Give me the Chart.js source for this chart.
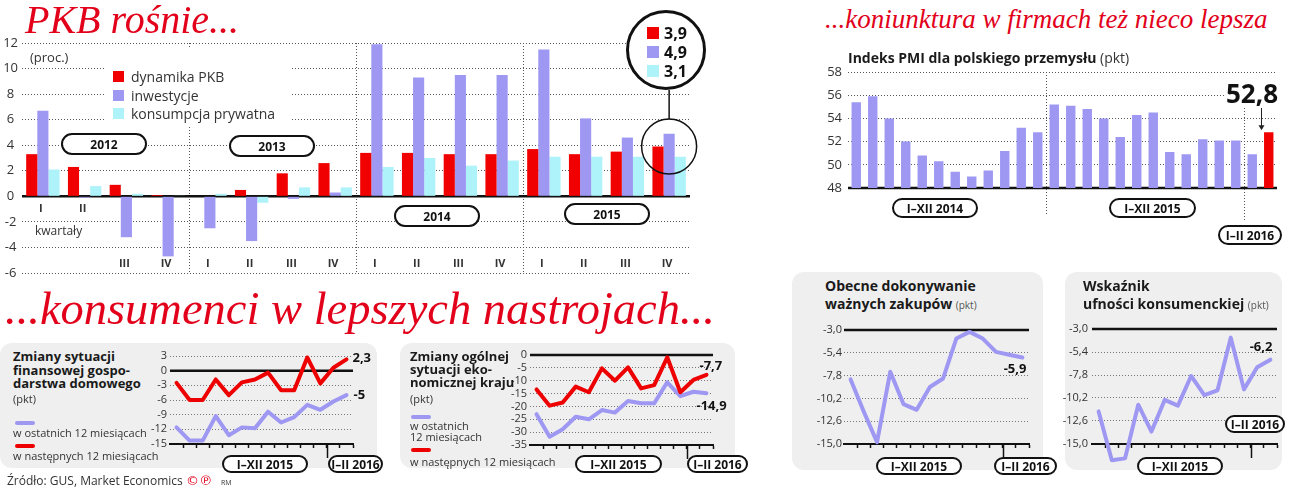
<!DOCTYPE html>
<html>
<head>
<meta charset="utf-8">
<script src="https://cdn.jsdelivr.net/npm/chart.js@4"></script>
<style>
body{margin:0;width:1302px;height:496px;background:#fff;position:relative;overflow:hidden;font-family:"Open Sans",sans-serif;color:#222}
canvas,.abs{position:absolute}
.title{position:absolute;font-family:"Liberation Serif",serif;font-style:italic;color:#e2001a;white-space:nowrap;line-height:1}
.panel{position:absolute;background:#efefef;border-radius:12px}
.pill{position:absolute;box-sizing:border-box;border:2px solid #111;border-radius:11px;background:#fff;font-weight:700;font-size:12px;display:flex;align-items:center;justify-content:center;white-space:nowrap;color:#111}
.ptitle{position:absolute;font-weight:700;color:#1a1a1a;white-space:nowrap}
.pkt{font-weight:400;font-size:10px;color:#555}
.small{position:absolute;font-size:11px;color:#333;white-space:nowrap;line-height:11px}
.seg{position:absolute;height:4px;border-radius:2px}
.sq{position:absolute;width:11px;height:11px}
</style>
</head>
<body>

<div class="panel" style="left:0;top:343px;width:377px;height:125px"></div>
<div class="panel" style="left:400px;top:343px;width:335px;height:125px"></div>
<div class="panel" style="left:792px;top:272px;width:251px;height:198px"></div>
<div class="panel" style="left:1065px;top:272px;width:217px;height:198px"></div>

<canvas id="pkb" width="700" height="290" style="left:0;top:0"></canvas>
<canvas id="pmi" width="502" height="190" style="left:800px;top:45px"></canvas>
<canvas id="house" width="235" height="125" style="left:145px;top:345px"></canvas>
<canvas id="econ" width="250" height="125" style="left:495px;top:345px"></canvas>
<canvas id="buy" width="250" height="160" style="left:800px;top:315px"></canvas>
<canvas id="conf" width="240" height="160" style="left:1062px;top:315px"></canvas>

<!-- PKB texts -->
<div class="title" style="left:25px;top:0;font-size:40px">PKB rośnie...</div>
<div class="abs" style="left:30px;top:48px;font-size:13px;color:#333">(proc.)</div>
<div class="abs" style="left:105px;top:47px;width:185px;height:80px;background:#fff"></div>
<div id="pkbLegend"></div>
<div class="abs" style="left:35px;top:222px;font-size:12px;color:#333">kwartały</div>
<div class="pill" style="left:61px;top:133px;width:86px;height:22px">2012</div>
<div class="pill" style="left:229px;top:135px;width:86px;height:22px">2013</div>
<div class="pill" style="left:394px;top:205px;width:86px;height:22px">2014</div>
<div class="pill" style="left:564px;top:203px;width:86px;height:22px">2015</div>
<div class="abs" style="left:626px;top:10px;width:80px;height:80px;box-sizing:border-box;border:3px solid #111;border-radius:50%;background:#fff"></div>
<div id="pkbLast"></div>

<!-- PMI texts -->
<div class="title" style="left:825px;top:6px;font-size:27px">...koniunktura w firmach też nieco lepsza</div>
<div class="ptitle" style="left:848px;top:48px;font-size:14px">Indeks PMI dla polskiego przemysłu <span style="font-weight:400;font-size:14px;color:#333">(pkt)</span></div>
<div id="pmiLast" class="abs" style="left:1224px;top:78px;font-size:26px;font-weight:700;color:#111;background:#fff;line-height:30px;padding:0 2px"></div>
<div class="pill" style="left:892px;top:198px;width:86px;height:20px">I–XII 2014</div>
<div class="pill" style="left:1109px;top:198px;width:87px;height:20px">I–XII 2015</div>
<div class="pill" style="left:1218px;top:225px;width:64px;height:20px">I–II 2016</div>

<!-- consumer texts -->
<div class="title" style="left:5px;top:286px;font-size:46.5px">...konsumenci w lepszych nastrojach...</div>

<div class="ptitle" style="left:13px;top:350px;font-size:13px;line-height:13.5px">Zmiany sytuacji<br>finansowej gospo-<br>darstwa domowego</div>
<div class="small" style="left:13px;top:393px">(pkt)</div>
<div class="seg" style="left:15px;top:421px;width:20px;background:#9e98f3"></div>
<div class="small" style="left:13px;top:427px">w ostatnich 12 miesiącach</div>
<div class="seg" style="left:15px;top:444px;width:20px;background:#ee0000"></div>
<div class="small" style="left:13px;top:450px">w następnych 12 miesiącach</div>
<div class="pill" style="left:222px;top:455px;width:86px;height:18px">I–XII 2015</div>
<div class="pill" style="left:328px;top:455px;width:55px;height:18px">I–II 2016</div>

<div class="ptitle" style="left:410px;top:350px;font-size:13px;line-height:13px">Zmiany ogólnej<br>sytuacji eko-<br>nomicznej kraju</div>
<div class="small" style="left:410px;top:393px">(pkt)</div>
<div class="seg" style="left:411px;top:415px;width:20px;background:#9e98f3"></div>
<div class="small" style="left:410px;top:420px">w ostatnich<br>12 miesiącach</div>
<div class="seg" style="left:411px;top:448px;width:20px;background:#ee0000"></div>
<div class="small" style="left:410px;top:456px">w następnych 12 miesiącach</div>
<div class="pill" style="left:575px;top:455px;width:87px;height:18px">I–XII 2015</div>
<div class="pill" style="left:687px;top:455px;width:61px;height:18px">I–II 2016</div>

<div class="ptitle" style="left:825px;top:277px;font-size:14px;line-height:18px">Obecne dokonywanie<br>ważnych zakupów <span class="pkt">(pkt)</span></div>
<div class="pill" style="left:876px;top:457px;width:86px;height:18px">I–XII 2015</div>
<div class="pill" style="left:994px;top:457px;width:63px;height:18px">I–II 2016</div>

<div class="ptitle" style="left:1083px;top:277px;font-size:14px;line-height:18px">Wskaźnik<br>ufności konsumenckiej <span class="pkt">(pkt)</span></div>
<div class="pill" style="left:1225px;top:415px;width:60px;height:18px">I–II 2016</div>
<div class="pill" style="left:1137px;top:457px;width:86px;height:18px">I–XII 2015</div>

<div class="abs" style="left:7px;top:472px;font-size:12px;color:#333;white-space:nowrap">Źródło: GUS, Market Economics <span style="color:#e2001a;font-family:'DejaVu Sans';font-size:13px">©℗</span> <span style="font-size:7px;margin-left:6px">RM</span></div>

<script>
const RED = '#f00000';
const PURPLE = '#9e98f3';
const CYAN = '#aef2fa';

// PKB, quarters 2012-2015 (proc.)
const pkbYears = ['2012', '2013', '2014', '2015'];
const pkbQuarterNames = ['I', 'II', 'III', 'IV'];
const pkbGrowth      = [3.3, 2.3, 0.9, 0.1,   0.0, 0.5, 1.8, 2.6,   3.4, 3.4, 3.3, 3.3,   3.7, 3.3, 3.5, 3.9];
const pkbInvestment  = [6.7, -0.1, -3.2, -4.7, -2.5, -3.5, -0.2, 0.3, 11.9, 9.3, 9.5, 9.5,  11.5, 6.1, 4.6, 4.9];
const pkbConsumption = [2.1, 0.8, 0.2, 0.05,  0.2, -0.5, 0.7, 0.7,   2.3, 3.0, 2.4, 2.8,   3.1, 3.1, 3.1, 3.1];
const pkbSeriesNames = ['dynamika PKB', 'inwestycje', 'konsumpcja prywatna'];
const pkbTicks = [-6, -4, -2, 0, 2, 4, 6, 8, 10, 12];

// PMI, months 2014 - II 2016 (pkt)
const pmiMonths = ['I 2014','II 2014','III 2014','IV 2014','V 2014','VI 2014','VII 2014','VIII 2014','IX 2014','X 2014','XI 2014','XII 2014',
                   'I 2015','II 2015','III 2015','IV 2015','V 2015','VI 2015','VII 2015','VIII 2015','IX 2015','X 2015','XI 2015','XII 2015',
                   'I 2016','II 2016'];
const pmiValues = [55.4, 55.9, 54.0, 52.0, 50.8, 50.3, 49.4, 49.0, 49.5, 51.2, 53.2, 52.8,
                   55.2, 55.1, 54.8, 54.0, 52.4, 54.3, 54.5, 51.1, 50.9, 52.2, 52.1, 52.1,
                   50.9, 52.8];
const pmiTicks = [48, 50, 52, 54, 56, 58];

// consumer sentiment, I 2015 - II 2016 (pkt)
const months = ['I 2015','II 2015','III 2015','IV 2015','V 2015','VI 2015','VII 2015','VIII 2015','IX 2015','X 2015','XI 2015','XII 2015','I 2016','II 2016'];
const householdPast = [-11.6, -14.3, -14.3, -9.3, -13.2, -11.6, -11.8, -8.4, -10.6, -9.5, -7.0, -8.0, -6.3, -5];
const householdNext = [-2.5, -6.0, -6.0, -1.8, -5.0, -2.4, -1.8, -0.4, -4.0, -4.0, 2.7, -2.6, 0.6, 2.3];
const householdTicks = [3, 0, -3, -6, -9, -12, -15];
const economyPast = [-23.0, -31.8, -28.9, -24.0, -25.0, -21.4, -22.4, -17.9, -18.8, -18.8, -10.6, -16.0, -14.3, -14.9];
const economyNext = [-13.4, -19.7, -18.5, -12.3, -14.5, -5.2, -10.0, -4.8, -13.0, -11.7, -0.9, -14.5, -9.7, -7.7];
const economyTicks = [0, -5, -10, -15, -20, -25, -30, -35];
const purchases  = [-8.2, -11.6, -14.8, -7.4, -10.8, -11.4, -9.0, -8.1, -3.9, -3.2, -3.9, -5.3, -5.6, -5.9];
const confidence = [-11.6, -16.7, -16.5, -10.9, -13.7, -10.4, -11.0, -7.9, -9.9, -9.4, -3.9, -9.3, -7.0, -6.2];
const sentimentTicks = [-3, -5.4, -7.8, -10.2, -12.6, -15];

Chart.defaults.font.family = '"Open Sans", sans-serif';
const comma = v => String(v).replace('.', ',');
const fixedTicks = list => s => { s.ticks = list.map(v => ({value: v})); };

// html bits built from the data
const pkbColors = [RED, PURPLE, CYAN];
document.getElementById('pkbLegend').innerHTML = pkbSeriesNames.map((n, i) =>
  `<div class="sq" style="left:113px;top:${71 + i * 18.5}px;background:${pkbColors[i]}"></div>` +
  `<div class="abs" style="left:131px;top:${67 + i * 18.5}px;font-size:14px;color:#333;white-space:nowrap">${n}</div>`).join('');
const pkbLastVals = [pkbGrowth, pkbInvestment, pkbConsumption].map(a => a[a.length - 1].toFixed(1).replace('.', ','));
document.getElementById('pkbLast').innerHTML = pkbLastVals.map((v, i) =>
  `<div class="sq" style="left:647px;top:${27 + i * 19}px;width:12px;height:12px;background:${pkbColors[i]}"></div>` +
  `<div class="abs" style="left:664px;top:${22 + i * 19}px;font-size:16px;font-weight:700;color:#111">${v}</div>`).join('');
document.getElementById('pmiLast').textContent = comma(pmiValues[pmiValues.length - 1]);

// plugins
function baseLine(value) {
  return {
    id: 'baseLine',
    beforeDatasetsDraw(chart) {
      const {ctx, chartArea: a, scales: {y}} = chart;
      const py = y.getPixelForValue(value);
      ctx.save();
      ctx.strokeStyle = '#111';
      ctx.lineWidth = 2.5;
      ctx.beginPath();
      ctx.moveTo(a.left, py);
      ctx.lineTo(a.right, py);
      ctx.stroke();
      ctx.restore();
    }
  };
}

function splitMark(at, len) {
  return {
    id: 'splitMark',
    afterDraw(chart) {
      const {ctx, chartArea: a, scales: {x}} = chart;
      const px = Math.round(x.getPixelForValue(at)) + 0.5;
      ctx.save();
      ctx.strokeStyle = '#111';
      ctx.lineWidth = 1.5;
      ctx.beginPath();
      ctx.moveTo(px, a.bottom);
      ctx.lineTo(px, a.bottom + len);
      ctx.stroke();
      ctx.restore();
    }
  };
}

function endLabels(items) {
  return {
    id: 'endLabels',
    afterDatasetsDraw(chart) {
      const {ctx} = chart;
      ctx.save();
      ctx.font = 'bold 13px "Open Sans"';
      ctx.fillStyle = '#111';
      ctx.textBaseline = 'middle';
      items.forEach(it => {
        const data = chart.data.datasets[it.ds].data;
        const pt = chart.getDatasetMeta(it.ds).data[data.length - 1];
        ctx.textAlign = it.align;
        ctx.fillText(comma(data[data.length - 1]), pt.x + it.dx, pt.y + it.dy);
      });
      ctx.restore();
    }
  };
}

const quarterLabels = {
  id: 'quarterLabels',
  afterDatasetsDraw(chart) {
    const {ctx, scales: {x, y}} = chart;
    ctx.save();
    ctx.font = 'bold 11px "Open Sans"';
    ctx.fillStyle = '#333';
    ctx.textAlign = 'center';
    ctx.textBaseline = 'middle';
    chart.data.labels.forEach((l, i) => {
      ctx.fillText(l.split(' ')[0], x.getPixelForValue(i) - 2, y.getPixelForValue(i < 2 ? -1 : -5.3));
    });
    ctx.restore();
  }
};

const pkbCallout = {
  id: 'pkbCallout',
  afterDatasetsDraw(chart) {
    const {ctx, scales: {x, y}} = chart;
    const last = pkbGrowth.length - 1;
    const cx = x.getPixelForValue(last);
    const cy = y.getPixelForValue(3.9);
    ctx.save();
    ctx.strokeStyle = '#111';
    ctx.lineWidth = 1.5;
    ctx.beginPath();
    ctx.arc(cx, cy, 27.5, 0, Math.PI * 2);
    ctx.stroke();
    ctx.beginPath();
    ctx.moveTo(cx, cy - 27.5);
    ctx.lineTo(cx, 90);
    ctx.stroke();
    ctx.restore();
  }
};

const pmiMarks = {
  id: 'pmiMarks',
  afterDatasetsDraw(chart) {
    const {ctx, chartArea: a, scales: {x, y}} = chart;
    ctx.save();
    ctx.strokeStyle = '#555';
    ctx.lineWidth = 1;
    ctx.setLineDash([1, 2]);
    [[11.5, a.top, a.bottom + 27], [23.5, a.top + 33, a.bottom + 32]].forEach(([v, t, b]) => {
      const px = Math.round(x.getPixelForValue(v)) + 0.5;
      ctx.beginPath();
      ctx.moveTo(px, t);
      ctx.lineTo(px, b);
      ctx.stroke();
    });
    ctx.setLineDash([]);
    const last = pmiValues.length - 1;
    const px = Math.round(x.getPixelForValue(last)) - 7.5;
    const top = a.top + 36;
    const bot = y.getPixelForValue(pmiValues[last]) - 2;
    ctx.strokeStyle = '#222';
    ctx.fillStyle = '#222';
    ctx.beginPath();
    ctx.moveTo(px, top);
    ctx.lineTo(px, bot - 4);
    ctx.stroke();
    ctx.beginPath();
    ctx.moveTo(px - 3, bot - 5);
    ctx.lineTo(px + 3, bot - 5);
    ctx.lineTo(px, bot);
    ctx.fill();
    ctx.restore();
  }
};

const noTip = {legend: {display: false}, tooltip: {enabled: false}};

// PKB chart
new Chart(document.getElementById('pkb'), {
  type: 'bar',
  data: {
    labels: pkbYears.flatMap(yr => pkbQuarterNames.map(q => q + ' ' + yr)),
    datasets: [
      {label: pkbSeriesNames[0], data: pkbGrowth, backgroundColor: RED},
      {label: pkbSeriesNames[1], data: pkbInvestment, backgroundColor: PURPLE},
      {label: pkbSeriesNames[2], data: pkbConsumption, backgroundColor: CYAN}
    ]
  },
  options: {
    responsive: false,
    animation: false,
    devicePixelRatio: 1,
    layout: {padding: {top: 43, bottom: 17, left: 0, right: 10}},
    plugins: noTip,
    datasets: {bar: {categoryPercentage: 0.8, barPercentage: 1, borderWidth: 0}},
    scales: {
      x: {
        grid: {offset: true, drawTicks: false, lineWidth: 1,
               color: c => (c.index > 0 && c.index % 4 === 0 && c.index < 16) ? '#555' : 'rgba(0,0,0,0)'},
        border: {display: false, dash: [1, 2]},
        ticks: {display: false},
        afterFit: s => { s.height = 0; }
      },
      y: {
        min: -6, max: 12,
        afterBuildTicks: fixedTicks(pkbTicks),
        grid: {color: '#555', drawTicks: false},
        border: {display: false, dash: [1, 2]},
        ticks: {font: {size: 13}, color: '#333', padding: 4, crossAlign: 'center', autoSkip: false},
        afterFit: s => { s.width = 22; }
      }
    }
  },
  plugins: [baseLine(0), quarterLabels, pkbCallout]
});

// PMI chart
new Chart(document.getElementById('pmi'), {
  type: 'bar',
  data: {
    labels: pmiMonths,
    datasets: [{data: pmiValues, backgroundColor: pmiValues.map((v, i) => i === pmiValues.length - 1 ? RED : PURPLE)}]
  },
  options: {
    responsive: false,
    animation: false,
    devicePixelRatio: 1,
    layout: {padding: {top: 27, bottom: 47, left: 0, right: 25}},
    plugins: noTip,
    datasets: {bar: {categoryPercentage: 1, barPercentage: 0.57, borderWidth: 0}},
    scales: {
      x: {grid: {display: false}, border: {display: false}, ticks: {display: false}, afterFit: s => { s.height = 0; }},
      y: {
        min: 48, max: 58,
        afterBuildTicks: fixedTicks(pmiTicks),
        grid: {color: '#555', drawTicks: false},
        border: {display: false, dash: [1, 2]},
        ticks: {font: {size: 13}, color: '#333', padding: 6, autoSkip: false},
        afterFit: s => { s.width = 48; }
      }
    }
  },
  plugins: [baseLine(48), pmiMarks]
});

// sentiment line charts
function sentimentChart(id, series, ticks, zero, fmt, labels, pad, yWidth, tickPad) {
  return new Chart(document.getElementById(id), {
    type: 'line',
    data: {
      labels: months,
      datasets: series.map(s => ({data: s.data, borderColor: s.color, borderWidth: 4, pointRadius: 0,
                                  tension: 0, borderJoinStyle: 'round', borderCapStyle: 'round', clip: false}))
    },
    options: {
      responsive: false,
      animation: false,
      devicePixelRatio: 1,
      layout: {padding: pad},
      plugins: noTip,
      scales: {
        x: {
          offset: true,
          grid: {offset: true, drawOnChartArea: false, drawTicks: true, tickLength: 4, tickWidth: 1.5,
                 tickColor: c => (c.index === 0 || c.index === months.length) ? 'rgba(0,0,0,0)' : '#111'},
          border: {display: true, color: '#111', width: 2},
          ticks: {display: false},
          afterFit: s => { s.height = 0; }
        },
        y: {
          min: Math.min(...ticks), max: Math.max(...ticks),
          afterBuildTicks: fixedTicks(ticks),
          grid: {color: '#777', drawTicks: false},
          border: {display: false, dash: [1, 2]},
          ticks: {font: {size: 11}, color: '#333', padding: tickPad, autoSkip: false, callback: v => fmt(v)},
          afterFit: s => { s.width = yWidth; }
        }
      }
    },
    plugins: [baseLine(zero), splitMark(11.5, 14), endLabels(labels)]
  });
}

const intFmt = v => String(v);
const decFmt = v => v.toFixed(1).replace('.', ',');

sentimentChart('house',
  [{data: householdNext, color: '#ee0000'}, {data: householdPast, color: PURPLE}],
  householdTicks, 0, intFmt,
  [{ds: 0, dx: 6, dy: -1, align: 'left'}, {ds: 1, dx: 7, dy: 0, align: 'left'}],
  {top: 11, bottom: 26, left: 0, right: 27}, 25, 3);

sentimentChart('econ',
  [{data: economyNext, color: '#ee0000'}, {data: economyPast, color: PURPLE}],
  economyTicks, 0, intFmt,
  [{ds: 0, dx: -7, dy: -9, align: 'left'}, {ds: 1, dx: -10, dy: 13, align: 'left'}],
  {top: 10, bottom: 25, left: 0, right: 32}, 35, 3);

sentimentChart('buy',
  [{data: purchases, color: PURPLE}],
  sentimentTicks, -3, decFmt,
  [{ds: 0, dx: 4, dy: 12, align: 'right'}],
  {top: 15, bottom: 31, left: 0, right: 21}, 44, 2);

sentimentChart('conf',
  [{data: confidence, color: PURPLE}],
  sentimentTicks, -3, decFmt,
  [{ds: 0, dx: 2, dy: -12, align: 'right'}],
  {top: 14, bottom: 31, left: 0, right: 25}, 30, 4);
</script>
</body>
</html>
